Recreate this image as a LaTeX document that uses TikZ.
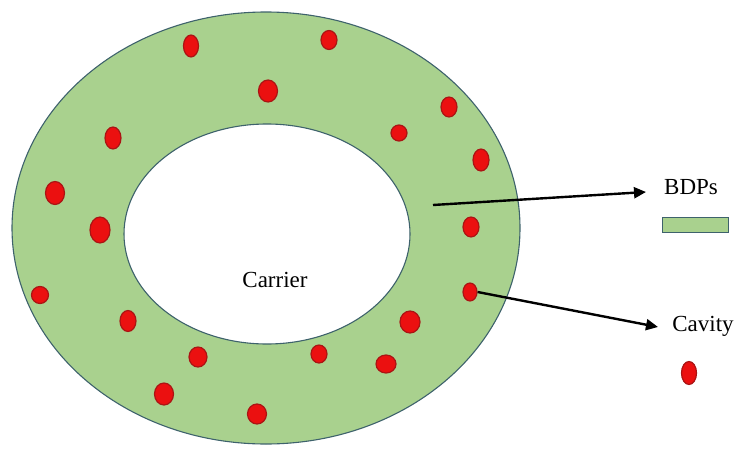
\documentclass[tikz,border=0pt]{standalone}
\usepackage{fontspec}
\setmainfont{Liberation Serif}
\usetikzlibrary{shapes.geometric,arrows.meta}
\definecolor{bdpgreen}{RGB}{169,209,142}
\definecolor{ringline}{RGB}{62,98,108}
\definecolor{cavred}{RGB}{235,16,16}
\definecolor{cavline}{RGB}{170,20,20}
\tikzset{
  cav/.style={ellipse, fill=cavred, draw=cavline, line width=1.2pt, inner sep=0pt},
  lbl/.style={font=\fontsize{23}{27}\selectfont, inner sep=0pt},
  pointer/.style={line width=2.4pt, -{Triangle[length=12pt,width=11pt]}}
}
\begin{document}
\begin{tikzpicture}[x=1pt,y=-1pt]
\useasboundingbox (0,0) rectangle (736,452);
% ring
\path[fill=bdpgreen, draw=ringline, line width=1.1pt, even odd rule]
  (266,228) ellipse [x radius=254, y radius=216]
  (267,234) ellipse [x radius=143, y radius=110];
\node[lbl] (carrier) at (275,280) {Carrier};
% cavities
\foreach \n/\x/\y/\w/\h in {
  d1/191/46/15/22, d2/329/40/16/19, d3/268/91/19/22, d4/113/138/16/22,
  d5/449/107/16/20, d6/399/133/16/16, d7/481/160/16/22, d8/55/193/19/23,
  d9/100/230/20/26, d10/471/227/16/20, d11/40/295/17/17, d12/128/321/16/21,
  d13/470/292/14/18, d14/410/322/20/22, d15/198/357/18/20, d16/319/354/16/18,
  d17/386/364/20/18, d18/164/394/19/22, d19/257/414/19/20}
  {\node[cav, minimum width=\w pt, minimum height=\h pt] (\n) at (\x,\y) {};}
% legend
\node[lbl] (bdps) at (691,187) {BDPs};
\node[draw=ringline, fill=bdpgreen, line width=1pt, minimum width=66pt, minimum height=15pt, inner sep=0pt] (bdpbox) at (695,225) {};
\node[lbl] (cavity) at (703,326) {Cavity};
\node[cav, minimum width=15pt, minimum height=23pt] (cavleg) at (689,373) {};
% arrows
\coordinate (bstart) at (433,205);
\coordinate (bend) at (646,192);
\coordinate (cend) at (658,327);
\draw[pointer] (bstart) -- (bend);
\draw[pointer] (d13.east) -- (cend);
\end{tikzpicture}
\end{document}
